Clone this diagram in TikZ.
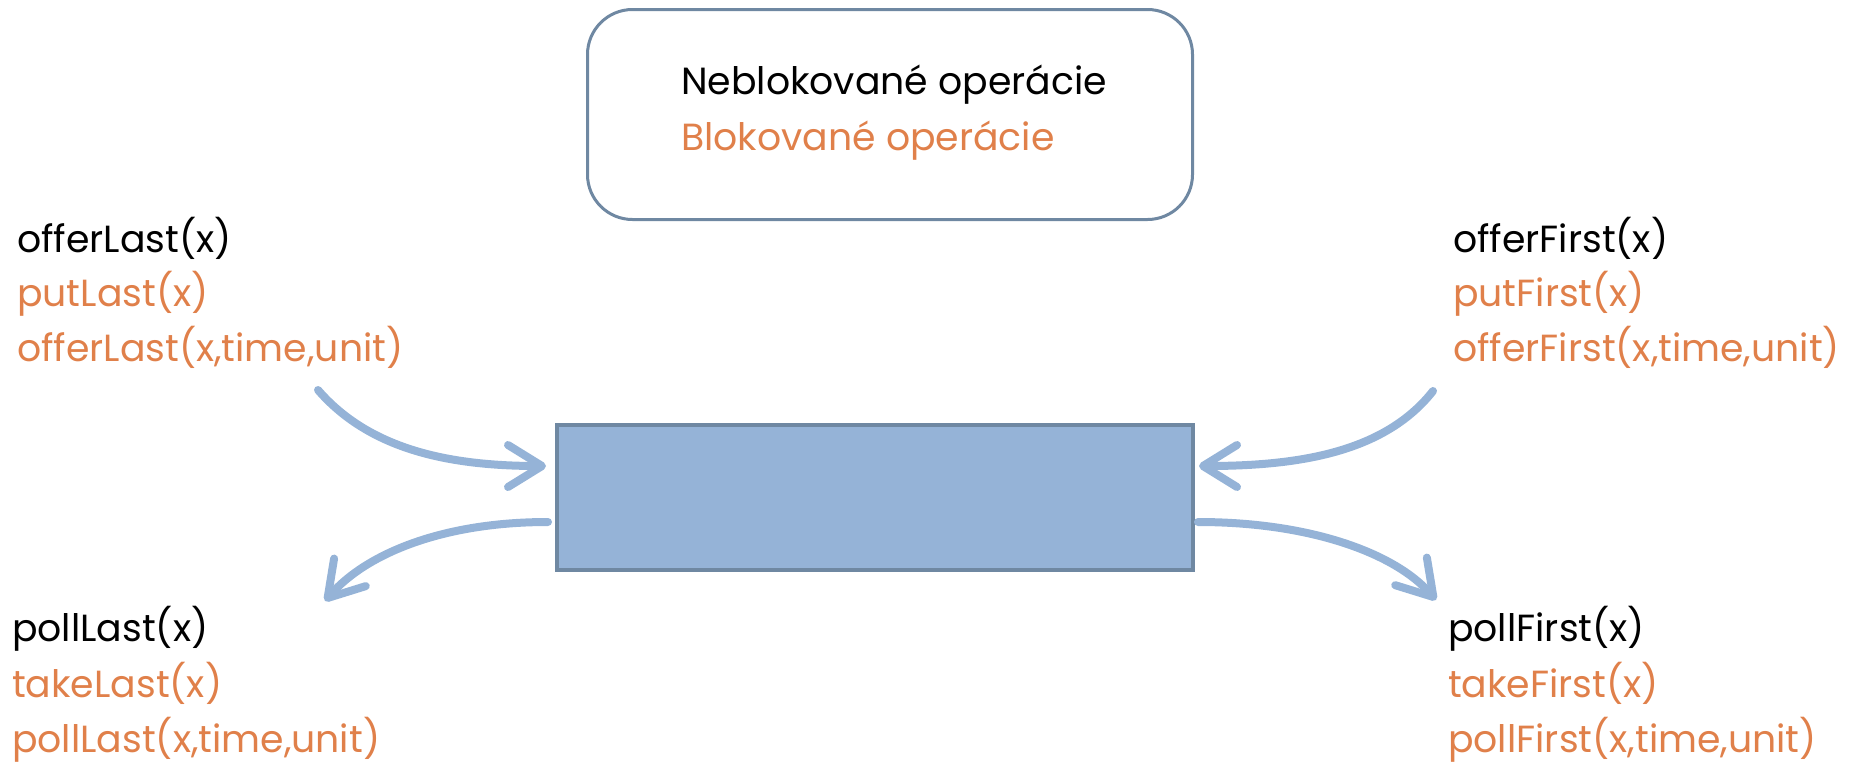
\documentclass[tikz,border=0pt]{standalone}
\usepackage{fontspec}
\setmainfont{Poppins}
\usetikzlibrary{arrows.meta}
\definecolor{txtorange}{HTML}{E0804A}
\definecolor{arrblue}{HTML}{95B3D7}
\definecolor{boxborder}{HTML}{6F88A2}
\begin{document}
\begin{tikzpicture}[x=1pt,y=-1pt,
  lbl/.style={inner sep=0pt,anchor=base west,font=\fontsize{37.8}{45}\selectfont},
  blk/.style={lbl,text=txtorange},
  arr/.style={draw=arrblue,line width=8pt,line cap=round,-{Straight Barb[length=34pt,width=42pt,round]}}]
\useasboundingbox (0,0) rectangle (1852,766);
\node[draw=boxborder,line width=3pt,rounded corners=45pt,minimum width=605pt,minimum height=210pt,anchor=north west] (legend) at (586,8) {};
\node[lbl] (nb) at (681,94) {Neblokované operácie};
\node[blk] (bl) at (681,150) {Blokované operácie};
\node[draw=boxborder,line width=3.5pt,fill=arrblue,minimum width=636pt,minimum height=145pt,anchor=north west] (q) at (555,423) {};
\node[lbl] (tl1) at (17,252) {offerLast(x)};
\node[blk] (tl2) at (17,306) {putLast(x)};
\node[blk] (tl3) at (17,361) {offerLast(x,time,unit)};
\node[lbl] (tr1) at (1453,252) {offerFirst(x)};
\node[blk] (tr2) at (1453,306) {putFirst(x)};
\node[blk] (tr3) at (1453,361) {offerFirst(x,time,unit)};
\node[lbl] (bl1) at (12,641) {pollLast(x)};
\node[blk] (bl2) at (12,697) {takeLast(x)};
\node[blk] (bl3) at (12,752) {pollLast(x,time,unit)};
\node[lbl] (br1) at (1448,641) {pollFirst(x)};
\node[blk] (br2) at (1448,697) {takeFirst(x)};
\node[blk] (br3) at (1448,752) {pollFirst(x,time,unit)};
\coordinate (a1s) at (318,390); \coordinate (a1e) at (546,466);
\coordinate (a2s) at (548,522); \coordinate (a2e) at (325,601);
\coordinate (a3s) at (1433,391); \coordinate (a3e) at (1199,466);
\coordinate (a4s) at (1198,522); \coordinate (a4e) at (1436,600);
\draw[arr] (a1s) .. controls (370,450) and (450,466) .. (a1e);
\draw[arr] (a2s) .. controls (440,522) and (365,555) .. (a2e);
\draw[arr] (a3s) .. controls (1385,452) and (1300,466) .. (a3e);
\draw[arr] (a4s) .. controls (1310,522) and (1395,553) .. (a4e);
\end{tikzpicture}
\end{document}
